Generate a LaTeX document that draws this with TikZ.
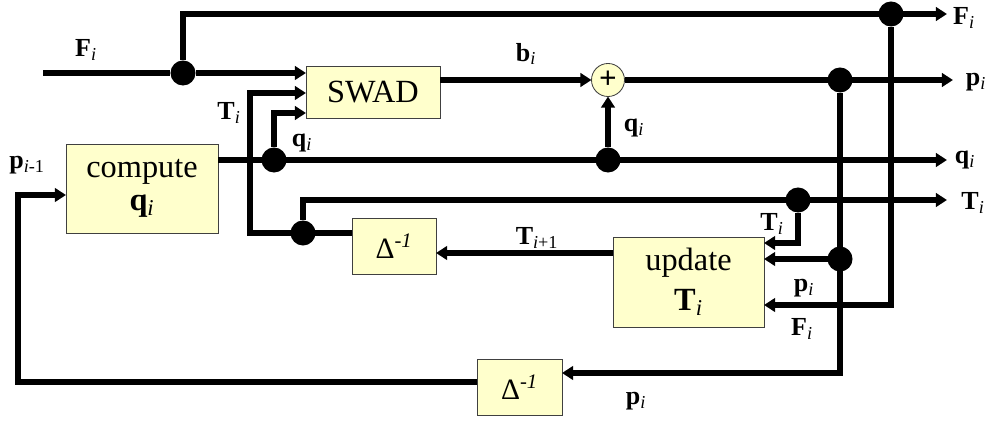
\documentclass[tikz,border=0pt]{standalone}
\usepackage{fontspec}
\setmainfont{Liberation Serif}
\usetikzlibrary{arrows.meta,calc,positioning}
\definecolor{blockfill}{HTML}{FFFFCC}
\newcommand{\vsub}[2]{\textbf{#1}\textsubscript{\itshape #2}}

\begin{document}
\begin{tikzpicture}[
  x=0.025cm, y=-0.025cm,
  every node/.style={outer sep=0pt},
  block/.style={rectangle, draw=black!75, line width=0.6pt, fill=blockfill,
                align=center, inner sep=0pt, font=\fontsize{23}{25}\selectfont},
  delay/.style={block, minimum width=2.1cm, minimum height=1.4cm,
                font=\fontsize{21}{22}\selectfont},
  junc/.style={circle, fill=black, minimum size=0.625cm, inner sep=0pt},
  adder/.style={circle, draw=black!75, line width=0.6pt, fill=blockfill,
                minimum size=0.825cm, inner sep=0pt,
                font=\fontsize{22}{22}\selectfont\bfseries},
  lbl/.style={font=\fontsize{18.5}{20}\selectfont, inner sep=0pt},
  >={Triangle[length=0.28cm, width=0.34cm]},
  line width=4.2pt,
]
  \useasboundingbox (0,0) rectangle (992,426);

  % blocks
  \node[block, minimum width=3.35cm, minimum height=1.3cm] (swad) at (373,92) {SWAD};
  \node[block, minimum width=3.8cm, minimum height=2.225cm] (comp) at (142,188.5)
    {compute\\[-2pt]\vsub{q}{i}};
  \node[block, minimum width=3.775cm, minimum height=2.25cm] (upd) at (688.5,282)
    {update\\[3pt]\vsub{T}{i}};
  \node[delay] (dinv1) at (394,246) {Δ\textsuperscript{\itshape -1}};
  \node[delay, minimum width=2.125cm] (dinv2) at (519.5,387) {Δ\textsuperscript{\itshape -1}};
  \node[adder] (sum) at (608,80) {\raisebox{1pt}{+}};

  % junctions
  \node[junc] (dF1) at (183,73) {};
  \node[junc] (dF2) at (891,14) {};
  \node[junc] (dq1) at (274,160) {};
  \node[junc] (dq2) at (608,160) {};
  \node[junc] (dp1) at (840,80) {};
  \node[junc] (dp2) at (840,259) {};
  \node[junc] (dT1) at (303,233) {};
  \node[junc] (dT2) at (798,200) {};

  % free ends and bends
  \coordinate (inF) at (43,73);
  \coordinate (outF) at (947,14);
  \coordinate (outp) at (953,80);
  \coordinate (outq) at (947,160);
  \coordinate (outT) at (947,200);
  \coordinate (tbend) at (250,233);
  \coordinate (pback) at (18,382);

  % signal lines
  \draw (inF) -- (dF1);
  \draw[->] (dF1) -- (dF1 -| swad.west);
  \draw[->] (dF1) |- (outF);
  \draw[->] (dF2) |- ($(upd.east)+(0,23)$);
  \draw[->] (swad.east |- sum) -- (sum);
  \draw[->] (sum) -- (outp);
  \draw[->] (dp1) |- ($(dinv2.east)+(0,-14)$);
  \draw[->] (dp2) -- (dp2 -| upd.east);
  \draw[->] (comp.east |- outq) -- (outq);
  \draw[->] (dq1) |- ($(swad.west)+(0,21)$);
  \draw[->] (dq2) -- (sum);
  \draw[->] ($(upd.west)+(0,-29)$) -- ($(dinv1.east)+(0,7)$);
  \draw[->] (dinv1.west |- dT1) -- (tbend) |- ($(swad.west)+(0,1)$);
  \draw[->] (dT1) |- (outT);
  \draw[->] (dT2) |- ($(upd.east)+(0,-39)$);
  \draw[->] ($(dinv2.west)+(0,-5)$) -- (pback) |- ($(comp.west)+(0,6.5)$);

  % labels
  \node[lbl] (lFin) at (86,50) {\vsub{F}{i}};
  \node[lbl] (lTsw) at (229,113) {\vsub{T}{i}};
  \node[lbl] (lqsw) at (302,143) {\vsub{q}{i}};
  \node[lbl] (lpprev) at (27,165) {\textbf{p}\textsubscript{\itshape i\upshape -1}};
  \node[lbl] (lb) at (526,54) {\vsub{b}{i}};
  \node[lbl] (lqsum) at (634,128) {\vsub{q}{i}};
  \node[lbl] (lFout) at (964,18) {\vsub{F}{i}};
  \node[lbl] (lpout) at (976,82) {\vsub{p}{i}};
  \node[lbl] (lqout) at (965,160) {\vsub{q}{i}};
  \node[lbl] (lTout) at (973,203) {\vsub{T}{i}};
  \node[lbl] (lTupd) at (772,224) {\vsub{T}{i}};
  \node[lbl] (lTnext) at (537,238) {\textbf{T}\textsubscript{\itshape i\upshape +1}};
  \node[lbl] (lpupd) at (804,288) {\vsub{p}{i}};
  \node[lbl] (lFupd) at (802,329) {\vsub{F}{i}};
  \node[lbl] (lpdown) at (636,401) {\vsub{p}{i}};
\end{tikzpicture}
\end{document}
